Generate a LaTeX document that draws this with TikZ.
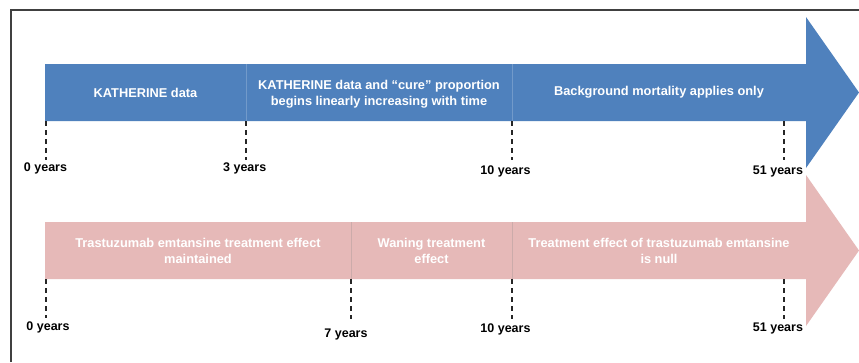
\documentclass[tikz,border=0pt]{standalone}
\usepackage{fontspec}
\setmainfont{Liberation Sans}
\definecolor{bandblue}{HTML}{4F81BD}
\definecolor{bandpink}{HTML}{E6B9B8}
\definecolor{frameclr}{HTML}{404040}
\begin{document}
\begin{tikzpicture}[x=1pt,y=-1pt,
  seg/.style={font=\bfseries\fontsize{12.8}{16}\selectfont, text=white, align=center, inner sep=0pt},
  yr/.style={font=\bfseries\fontsize{12.5}{14}\selectfont, text=black, inner sep=0pt},
  tickline/.style={draw=black!85, line width=1.6pt, dash pattern=on 5pt off 4pt},
  bluediv/.style={draw=bandblue!80!white, line width=0.6pt},
  pinkdiv/.style={draw=bandpink!75!gray, line width=0.6pt}]
\useasboundingbox (0,0) rectangle (859,362);
\fill[white] (0,0) rectangle (859,362);
% outer frame
\draw[frameclr, line width=1.5pt] (11,362) -- (11,10) -- (859,10);

% lower band: treatment effect
\fill[bandpink] (45,222) -- (806,222) -- (806,175) -- (859,250.5) -- (806,326)
  -- (806,279) -- (45,279) -- cycle;
\draw[pinkdiv] (351,222) -- (351,279);
\draw[pinkdiv] (512,222) -- (512,279);

% upper band: KATHERINE data
\fill[bandblue] (45,64) -- (806,64) -- (806,17) -- (859,92.5) -- (806,168)
  -- (806,121) -- (45,121) -- cycle;
\draw[bluediv] (246,64) -- (246,121);
\draw[bluediv] (512,64) -- (512,121);

% band texts
\node[seg] (kdata) at (145.5,92.5) {KATHERINE data};
\node[seg] (kcure) at (379,94) {KATHERINE data and “cure” proportion\\begins linearly increasing with time};
\node[seg] (bgmort) at (659,92.5) {Background mortality applies only};
\node[seg] (tmaint) at (198,251) {Trastuzumab emtansine treatment effect\\maintained};
\node[seg] (twane) at (431.5,251) {Waning treatment\\effect};
\node[seg] (tnull) at (659,251) {Treatment effect of trastuzumab emtansine\\is null};

% tick marks, upper band
\coordinate (bt0) at (46,121);  \coordinate (bb0) at (46,160);
\coordinate (bt3) at (246,121); \coordinate (bb3) at (246,160);
\coordinate (bt10) at (512,121); \coordinate (bb10) at (512,160);
\coordinate (bt51) at (784,121); \coordinate (bb51) at (784,160);
\foreach \t in {0,3,10,51} \draw[tickline] (bt\t) -- (bb\t);

% tick marks, lower band
\coordinate (pt0) at (46,279);  \coordinate (pb0) at (46,318);
\coordinate (pt7) at (351,279); \coordinate (pb7) at (351,319);
\coordinate (pt10) at (512,279); \coordinate (pb10) at (512,319);
\coordinate (pt51) at (784,279); \coordinate (pb51) at (784,319);
\foreach \t in {0,7,10,51} \draw[tickline] (pt\t) -- (pb\t);

% year labels
\node[yr] (by0) at (45.5,168.5) {0 years};
\node[yr] (by3) at (244.7,168.5) {3 years};
\node[yr] (by10) at (505.5,171) {10 years};
\node[yr] (by51) at (778,171) {51 years};
\node[yr] (py0) at (48,327) {0 years};
\node[yr] (py7) at (346,334) {7 years};
\node[yr] (py10) at (505.5,329) {10 years};
\node[yr] (py51) at (778,328) {51 years};
\end{tikzpicture}
\end{document}
